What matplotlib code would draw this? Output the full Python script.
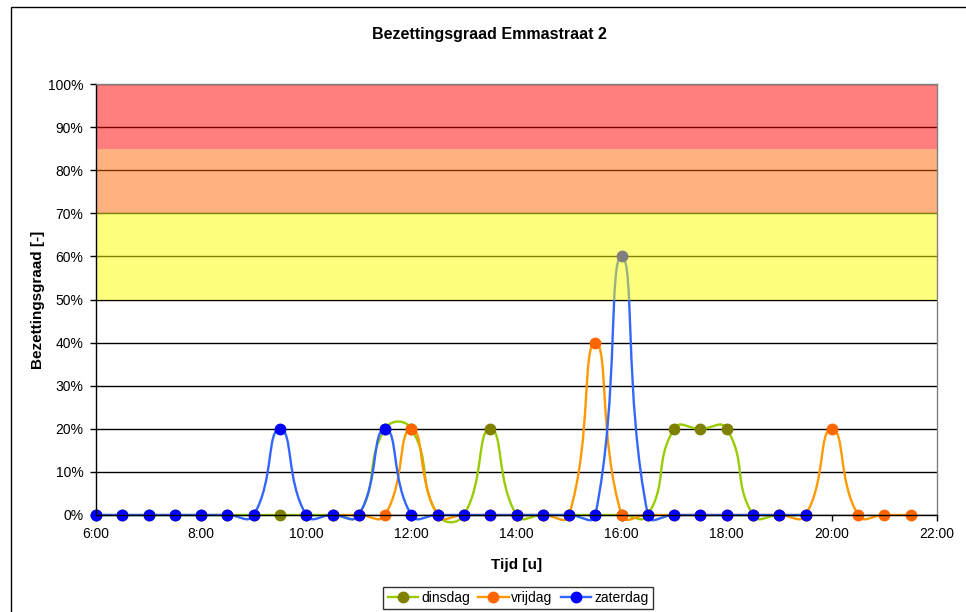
import matplotlib
matplotlib.use("Agg")
import numpy as np
import matplotlib.pyplot as plt
from matplotlib.path import Path
from matplotlib.patches import PathPatch, Rectangle
from matplotlib.lines import Line2D

plt.rcParams['font.family'] = ['Liberation Sans', 'DejaVu Sans']

# Data (time in hours, occupancy in %)
dinsdag_tijd = [6.0, 6.5, 7.0, 7.5, 8.0, 8.5, 9.0, 9.5, 10.0, 10.5, 11.0, 11.5, 12.0, 12.5,
                13.0, 13.5, 14.0, 14.5, 15.0, 15.5, 16.0, 16.5, 17.0, 17.5, 18.0, 18.5, 19.0, 19.5]
dinsdag = [0, 0, 0, 0, 0, 0, 0, 0, 0, 0, 0, 20, 20, 0,
           0, 20, 0, 0, 0, 0, 0, 0, 20, 20, 20, 0, 0, 0]

vrijdag_tijd = [10.5, 11.0, 11.5, 12.0, 12.5, 13.0, 13.5, 14.0, 14.5, 15.0, 15.5, 16.0,
                16.5, 17.0, 17.5, 18.0, 18.5, 19.0, 19.5, 20.0, 20.5, 21.0, 21.5]
vrijdag = [0, 0, 0, 20, 0, 0, 0, 0, 0, 0, 40, 0,
           0, 0, 0, 0, 0, 0, 0, 20, 0, 0, 0]

zaterdag_tijd = [6.0, 6.5, 7.0, 7.5, 8.0, 8.5, 9.0, 9.5, 10.0, 10.5, 11.0, 11.5, 12.0, 12.5,
                 13.0, 13.5, 14.0, 14.5, 15.0, 15.5, 16.0, 16.5, 17.0, 17.5, 18.0, 18.5, 19.0, 19.5]
zaterdag = [0, 0, 0, 0, 0, 0, 0, 20, 0, 0, 0, 20, 0, 0,
            0, 0, 0, 0, 0, 0, 60, 0, 0, 0, 0, 0, 0, 0]

# coloured zones (lower, upper, colour)
zones = [(50, 70, '#FFFF00'), (70, 85, '#FF6600'), (85, 100, '#FF0000')]


def smooth_path(x, y, sx, sy, f=0.5):
    # Excel-like smoothed line: Bezier segments, tangents weighted by chord length on screen
    p = np.column_stack([np.asarray(x, float) * sx, np.asarray(y, float) * sy])
    n = len(p)
    verts = [tuple(p[0])]
    codes = [Path.MOVETO]
    for i in range(n - 1):
        p0 = p[i - 1] if i > 0 else p[i]
        p1, p2 = p[i], p[i + 1]
        p3 = p[i + 2] if i + 2 < n else p[i + 1]
        d01 = np.hypot(*(p1 - p0))
        d12 = np.hypot(*(p2 - p1))
        d23 = np.hypot(*(p3 - p2))
        c1 = p1 + (p2 - p0) * f * d12 / (d01 + d12) if d01 + d12 > 0 else p1
        c2 = p2 - (p3 - p1) * f * d12 / (d12 + d23) if d12 + d23 > 0 else p2
        verts += [tuple(c1), tuple(c2), tuple(p2)]
        codes += [Path.CURVE4] * 3
    verts = [(vx / sx, vy / sy) for vx, vy in verts]
    return Path(verts, codes)


fig = plt.figure(figsize=(9.66, 6.12), dpi=100)
ax = fig.add_axes([96 / 966, 1 - 515 / 612, (937 - 96) / 966, (515 - 84) / 612])
ax.set_xlim(6, 22)
ax.set_ylim(0, 100)

# pixels per data unit, for the smoothing
sx = (937 - 96) / 16.0
sy = (515 - 84) / 100.0

# outer chart border
fig.patches.append(Rectangle((11 / 966, -0.1), 1.0, 1.1 - 7 / 612, transform=fig.transFigure,
                             fill=False, edgecolor='black', linewidth=1.0))

series = [
    ('dinsdag', dinsdag_tijd, dinsdag, '#99CC00', '#808000'),
    ('vrijdag', vrijdag_tijd, vrijdag, '#FF9900', '#FF6600'),
    ('zaterdag', zaterdag_tijd, zaterdag, '#3366FF', '#0000FF'),
]

for k, (name, tx, vals, lc, mc) in enumerate(series):
    ax.add_patch(PathPatch(smooth_path(tx, vals, sx, sy), fill=False, edgecolor=lc,
                           linewidth=1.7, zorder=3 + k, clip_on=False))
for k, (name, tx, vals, lc, mc) in enumerate(series):
    ax.plot(tx, vals, linestyle='none', marker='o', markersize=7.5, color=mc, zorder=6 + k,
            clip_on=False)

# semi-transparent zones drawn on top
for lo, hi, c in zones:
    ax.axhspan(lo, hi, color=c, alpha=0.5, linewidth=0, zorder=10)

ax.set_xticks(range(6, 23, 2))
ax.set_xticklabels(['%d:00' % h for h in range(6, 23, 2)])
ax.set_yticks(range(0, 101, 10))
ax.set_yticklabels(['%d%%' % v for v in range(0, 101, 10)])
ax.tick_params(labelsize=10, length=4, width=1, color='black', pad=5)
ax.yaxis.grid(True, color='black', linewidth=1.0, zorder=1)
ax.set_axisbelow(True)
for side in ['top', 'right']:
    ax.spines[side].set_color('#808080')
for side in ['left', 'bottom']:
    ax.spines[side].set_color('black')
for s in ax.spines.values():
    s.set_linewidth(1.0)
    s.set_zorder(12)

fig.text(489 / 966, 1 - 35 / 612, 'Bezettingsgraad Emmastraat 2', ha='center', va='center',
         fontsize=11.5, fontweight='bold')
ax.set_xlabel('Tijd [u]', fontsize=11, fontweight='bold', labelpad=12)
ax.set_ylabel('Bezettingsgraad [-]', fontsize=11, fontweight='bold', labelpad=2)

handles = [Line2D([], [], color=lc, linewidth=1.7, marker='o', markersize=7.5,
                  markerfacecolor=mc, markeredgecolor=mc) for _, _, _, lc, mc in series]
leg = fig.legend(handles, [s[0] for s in series], loc='upper center',
                 bbox_to_anchor=(518 / 966, 1 - 587 / 612), ncol=3, fontsize=10,
                 frameon=True, fancybox=False, edgecolor='black', handlelength=2.2,
                 handletextpad=0.2, columnspacing=0.6, borderpad=0.3, borderaxespad=0)
leg.get_frame().set_linewidth(1.0)

fig.savefig('out.png', dpi=100)
